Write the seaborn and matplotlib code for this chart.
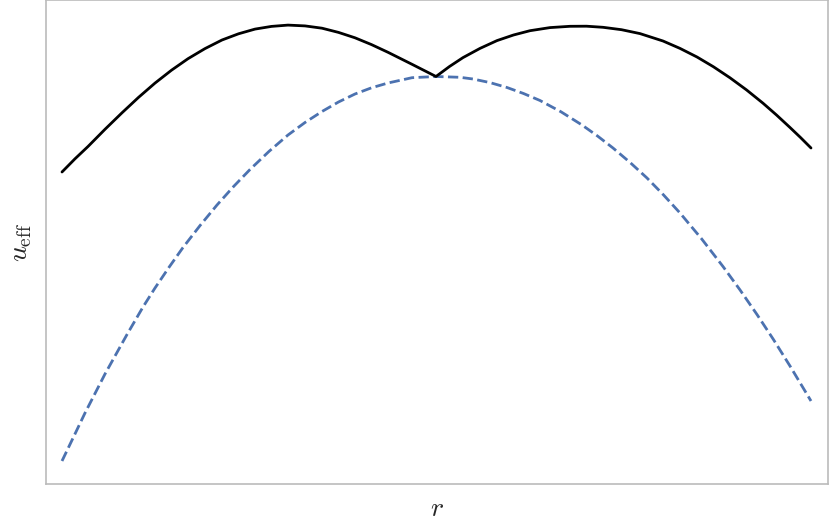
import matplotlib
matplotlib.use("Agg")
import matplotlib.pyplot as plt
import seaborn as sns

# Effective potential (solid, two arcs meeting at a cusp)
r_total = [0.00, 0.13, 0.26, 0.43, 0.60, 0.765, 0.93, 1.095, 1.26, 1.43, 1.60, 1.765,
           1.93, 2.095, 2.26, 2.43, 2.60, 2.765, 2.93, 3.095, 3.26, 3.50, 3.74, 3.875,
           4.01, 4.18, 4.35, 4.515, 4.68, 4.88, 5.08, 5.245, 5.41, 5.595, 5.78, 6.01,
           6.18, 6.35, 6.515, 6.68, 6.845, 7.01, 7.145, 7.28, 7.385, 7.49]
u_total = [3.12, 3.252, 3.375, 3.547, 3.712, 3.866, 4.009, 4.138, 4.253, 4.354, 4.44,
           4.502, 4.549, 4.576, 4.589, 4.581, 4.558, 4.516, 4.462, 4.394, 4.317, 4.197,
           4.075, 4.175, 4.264, 4.356, 4.434, 4.49, 4.533, 4.564, 4.577, 4.578, 4.567,
           4.543, 4.504, 4.43, 4.356, 4.27, 4.172, 4.062, 3.941, 3.808, 3.69, 3.565,
           3.465, 3.36]

# Single-branch potential (dashed)
r_branch = [0.00, 0.12, 0.23, 0.43, 0.65, 0.81, 0.93, 1.07, 1.21, 1.38, 1.55, 1.715,
            1.88, 2.07, 2.26, 2.43, 2.60, 2.765, 2.93, 3.095, 3.26, 3.50, 3.74, 3.98,
            4.11, 4.28, 4.45, 4.615, 4.78, 4.99, 5.20, 5.355, 5.51, 5.68, 5.85, 6.015,
            6.18, 6.395, 6.61, 6.78, 6.95, 7.115, 7.28, 7.49]
u_branch = [0.23, 0.48, 0.71, 1.10, 1.495, 1.77, 1.96, 2.167, 2.365, 2.584, 2.79, 2.974,
            3.145, 3.326, 3.49, 3.615, 3.725, 3.82, 3.90, 3.962, 4.01, 4.063, 4.075,
            4.067, 4.05, 4.014, 3.965, 3.905, 3.835, 3.722, 3.59, 3.48, 3.36, 3.216,
            3.06, 2.891, 2.71, 2.453, 2.175, 1.941, 1.695, 1.444, 1.18, 0.83]

x_label = r"$r$"
y_label = r"$u_{\rm eff}$"

sns.set_style("white")
plt.rcParams["mathtext.fontset"] = "cm"

fig = plt.figure(figsize=(8.30, 5.32), dpi=100)
ax = fig.add_axes([46 / 830, 48 / 532, 782 / 830, 484 / 532])

sns.lineplot(x=r_branch, y=u_branch, ax=ax, color="#4C72B0", lw=2.0,
             linestyle="--", estimator=None, sort=False)
sns.lineplot(x=r_total, y=u_total, ax=ax, color="black", lw=2.0,
             estimator=None, sort=False)

ax.set_xlim(-0.16, 7.66)
ax.set_ylim(0.0, 4.84)
ax.set_xticks([])
ax.set_yticks([])
ax.set_xlabel(x_label, fontsize=20, labelpad=7.5)
ax.set_ylabel(y_label, fontsize=20, labelpad=9)
for s in ax.spines.values():
    s.set_color("#bbbbbb")
    s.set_linewidth(1.2)

fig.savefig("out.png", dpi=100)
